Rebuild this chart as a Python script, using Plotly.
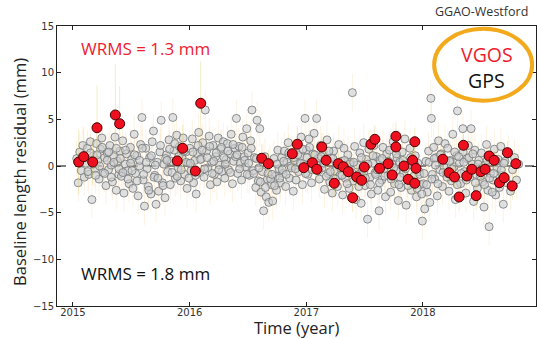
import plotly.graph_objects as go

# ---------------- data ----------------
vgos_year = [2015.049, 2015.092, 2015.169, 2015.206, 2015.363, 2015.400, 2015.894, 2015.940,
             2016.049, 2016.095, 2016.618, 2016.675, 2016.880, 2016.923, 2016.978, 2017.052,
             2017.090, 2017.133, 2017.170, 2017.240, 2017.275, 2017.317, 2017.360, 2017.397,
             2017.432, 2017.474, 2017.497, 2017.554, 2017.588, 2017.628, 2017.702, 2017.736,
             2017.768, 2017.768, 2017.837, 2017.873, 2017.911, 2017.930, 2017.930, 2017.940,
             2018.170, 2018.224, 2018.270, 2018.310, 2018.347, 2018.376, 2018.419, 2018.456,
             2018.496, 2018.533, 2018.567, 2018.610, 2018.656, 2018.696, 2018.724, 2018.765,
             2018.796]
vgos_resid = [0.43, 1.0, 0.43, 4.1, 5.47, 4.53, 0.54, 1.9,
              -0.54, 6.72, 0.83, 0.25, 1.32, 2.33, -0.18, 0.35,
              -0.35, 2.04, 0.61, -1.85, 0.25, -0.08, -0.61, -3.4,
              -1.18, -1.53, -0.11, 2.33, 2.86, -0.25, 0.25, -0.96,
              3.18, 2.04, 0.0, -1.43, 0.61, 2.6, -1.85, -0.25,
              0.72, -0.72, -1.18, -3.32, 2.22, -1.07, -0.35, -3.18,
              -0.61, -0.35, 1.07, 0.61, -1.79, -1.25, 1.43, -2.14,
              0.25]
vgos_err = [3.5, 3.0, 2.5, 4.5, 5.5, 4.0, 2.0, 2.5,
            2.0, 4.5, 1.5, 1.5, 1.5, 1.8, 1.2, 1.2,
            1.2, 1.5, 1.2, 1.5, 1.0, 1.0, 1.2, 1.5,
            1.2, 1.2, 1.0, 1.5, 1.5, 1.0, 1.0, 1.2,
            1.5, 1.2, 1.0, 1.2, 1.0, 1.5, 1.2, 1.0,
            1.2, 1.0, 1.2, 1.5, 1.2, 1.0, 1.0, 1.5,
            1.0, 1.0, 1.2, 1.0, 1.2, 1.0, 1.2, 1.5,
            1.2]

gps_year = [
    2015.032, 2015.045, 2015.058, 2015.071, 2015.084, 2015.097,
    2015.110, 2015.123, 2015.136, 2015.149, 2015.162, 2015.175, 2015.188,
    2015.201, 2015.212, 2015.224, 2015.236, 2015.247, 2015.259, 2015.271, 2015.283, 2015.294,
    2015.305, 2015.316, 2015.327, 2015.338, 2015.349, 2015.360, 2015.371, 2015.382, 2015.393,
    2015.404, 2015.415, 2015.426, 2015.437, 2015.448, 2015.459, 2015.470, 2015.481, 2015.492,
    2015.503, 2015.514, 2015.525, 2015.536, 2015.547, 2015.558, 2015.569, 2015.580, 2015.591,
    2015.602, 2015.613, 2015.624, 2015.635, 2015.646, 2015.657, 2015.668, 2015.679, 2015.690,
    2015.701, 2015.712, 2015.723, 2015.734, 2015.745, 2015.756, 2015.767, 2015.778, 2015.789,
    2015.801, 2015.812, 2015.823, 2015.834, 2015.845, 2015.856, 2015.867, 2015.878, 2015.889,
    2015.901, 2015.912, 2015.923, 2015.934, 2015.945, 2015.956, 2015.967, 2015.978, 2015.989,
    2016.001, 2016.012, 2016.023, 2016.034, 2016.045, 2016.056, 2016.067, 2016.078, 2016.089,
    2016.101, 2016.112, 2016.123, 2016.134, 2016.145, 2016.156, 2016.167, 2016.178, 2016.189,
    2016.201, 2016.212, 2016.223, 2016.234, 2016.245, 2016.256, 2016.267, 2016.278, 2016.289,
    2016.301, 2016.312, 2016.323, 2016.334, 2016.345, 2016.356, 2016.367, 2016.378, 2016.389,
    2016.401, 2016.412, 2016.423, 2016.434, 2016.445, 2016.456, 2016.467, 2016.478, 2016.489,
    2016.501, 2016.512, 2016.523, 2016.534, 2016.545, 2016.556, 2016.567, 2016.578, 2016.589,
    2016.601, 2016.612, 2016.623, 2016.634, 2016.645, 2016.656, 2016.667, 2016.678, 2016.689,
    2016.701, 2016.712, 2016.723, 2016.734, 2016.745, 2016.756, 2016.767, 2016.778, 2016.789,
    2016.801, 2016.812, 2016.823, 2016.834, 2016.845, 2016.856, 2016.867, 2016.878, 2016.889,
    2016.901, 2016.912, 2016.923, 2016.934, 2016.945, 2016.956, 2016.967, 2016.978, 2016.989,
    2017.001, 2017.012, 2017.023, 2017.034, 2017.045, 2017.056, 2017.067, 2017.078, 2017.089,
    2017.101, 2017.112, 2017.123, 2017.134, 2017.145, 2017.156, 2017.167, 2017.178, 2017.189,
    2017.201, 2017.212, 2017.223, 2017.234, 2017.245, 2017.256, 2017.267, 2017.278, 2017.289,
    2017.301, 2017.312, 2017.323, 2017.334, 2017.345, 2017.356, 2017.367, 2017.378, 2017.395,
    2017.404, 2017.415, 2017.426, 2017.437, 2017.448, 2017.459, 2017.470, 2017.481, 2017.492,
    2017.503, 2017.514, 2017.525, 2017.536, 2017.547, 2017.558, 2017.569, 2017.580, 2017.591,
    2017.602, 2017.613, 2017.624, 2017.635, 2017.646, 2017.657, 2017.668, 2017.679, 2017.690,
    2017.701, 2017.712, 2017.723, 2017.734, 2017.745, 2017.756, 2017.767, 2017.778, 2017.789,
    2017.801, 2017.812, 2017.823, 2017.834, 2017.845, 2017.856, 2017.867, 2017.878, 2017.889,
    2017.901, 2017.912, 2017.923, 2017.934, 2017.945, 2017.956, 2017.967, 2017.978, 2017.995,
    2018.005, 2018.015, 2018.026, 2018.037, 2018.048, 2018.059, 2018.068, 2018.072, 2018.081, 2018.092,
    2018.101, 2018.112, 2018.123, 2018.134, 2018.145, 2018.156, 2018.167, 2018.178, 2018.189,
    2018.201, 2018.212, 2018.223, 2018.234, 2018.245, 2018.256, 2018.267, 2018.278, 2018.289,
    2018.296, 2018.312, 2018.323, 2018.342, 2018.345, 2018.356, 2018.367, 2018.378, 2018.389,
    2018.401, 2018.413, 2018.423, 2018.434, 2018.445, 2018.456, 2018.467, 2018.478, 2018.489,
    2018.501, 2018.512, 2018.523, 2018.534, 2018.545, 2018.556, 2018.567, 2018.578, 2018.589,
    2018.601, 2018.612, 2018.623, 2018.634, 2018.645, 2018.656, 2018.667, 2018.678, 2018.689,
    2018.703, 2018.718, 2018.734, 2018.751, 2018.768, 2018.785, 2018.802, 2018.820,
    # denser core
    2015.106, 2015.128, 2015.150, 2015.172, 2015.194,
    2015.206, 2015.228, 2015.250, 2015.272, 2015.294,
    2015.306, 2015.328, 2015.350, 2015.372, 2015.394,
    2015.406, 2015.428, 2015.450, 2015.472, 2015.494,
    2015.506, 2015.528, 2015.550, 2015.572, 2015.594,
    2015.606, 2015.628, 2015.650, 2015.672, 2015.694,
    2015.706, 2015.728, 2015.750, 2015.772, 2015.794,
    2015.806, 2015.828, 2015.850, 2015.872, 2015.894,
    2015.906, 2015.928, 2015.950, 2015.972, 2015.994,
    2016.006, 2016.028, 2016.050, 2016.072, 2016.094,
    2016.106, 2016.128, 2016.150, 2016.172, 2016.194,
    2016.206, 2016.228, 2016.250, 2016.272, 2016.294,
    2016.306, 2016.328, 2016.350, 2016.372, 2016.394,
    2016.406, 2016.428, 2016.450, 2016.472, 2016.494,
    2016.506, 2016.528, 2016.550, 2016.572, 2016.594,
    2016.606, 2016.628, 2016.650, 2016.672, 2016.694,
    2016.706, 2016.728, 2016.750, 2016.772, 2016.794,
    2016.806, 2016.828, 2016.850, 2016.872, 2016.894,
    2016.906, 2016.928, 2016.950, 2016.972, 2016.994,
    2017.006, 2017.028, 2017.050, 2017.072, 2017.094,
    2017.106, 2017.128, 2017.150, 2017.172, 2017.194,
    2017.206, 2017.228, 2017.250, 2017.272, 2017.294,
    2017.306, 2017.328, 2017.350, 2017.372, 2017.390,
    2017.406, 2017.428, 2017.450, 2017.472, 2017.494,
    2017.506, 2017.528, 2017.550, 2017.572, 2017.594,
    2017.606, 2017.628, 2017.650, 2017.672, 2017.694,
    2017.706, 2017.728, 2017.750, 2017.772, 2017.794,
    2017.806, 2017.828, 2017.850, 2017.872, 2017.894,
    2017.906, 2017.928, 2017.950, 2017.972, 2017.990,
    2018.010, 2018.031, 2018.053, 2018.076, 2018.097,
    2018.106, 2018.128, 2018.150, 2018.172, 2018.194,
    2018.206, 2018.228, 2018.250, 2018.272, 2018.294,
    2018.306, 2018.328, 2018.350, 2018.372, 2018.394,
    2018.406, 2018.428, 2018.450, 2018.472, 2018.494,
    2018.506, 2018.528, 2018.550, 2018.572, 2018.594,
    2018.606, 2018.628, 2018.650, 2018.672, 2018.694,
]
gps_resid = [
    0.8, -1.8, 1.5, -0.5, 2.2, -1.2,
    0.3, 1.9, -0.9, 2.6, -3.6, 1.1, -0.3,
    2.4, 0.6, -1.4, 1.8, 3.0, -0.7, 0.9, -2.1, 1.4,
    -0.4, 2.2, 0.1, -1.7, 1.0, 3.1, -2.6, 0.5, -0.9,
    1.6, -1.1, 2.7, -2.9, 0.2, 1.3, -0.5, -1.9, 2.0,
    0.7, -2.4, 3.4, -0.8, 1.1, -3.2, 0.0, 2.3, 5.2,
    -1.5, -4.3, 1.9, -0.3, -2.2, 0.9, -3.0, 2.6, 3.75,
    -1.0, -4.1, 0.4, -2.7, 1.5, 4.9, -1.8, 0.2, -3.4,
    1.2, -0.6, 2.8, -2.0, 0.5, 5.2, 1.7, -1.3, 3.3,
    -0.2, 2.1, -1.6, 0.9, 3.0, -0.9, 1.5, -2.4, 0.3,
    1.9, -0.5, 2.9, -1.8, 0.6, -3.0, 1.3, 3.6, -0.7,
    0.8, 2.5, -1.2, 6.0, 1.6, -0.2, 3.2, -2.0, 0.4,
    2.2, -0.9, 1.0, -1.7, 3.0, 0.1, 1.8, -0.6, 2.6,
    -1.3, 0.7, 2.4, -0.4, 1.3, 3.4, -1.9, 0.5, 1.9,
    5.1, -0.8, 2.1, 0.3, -1.5, 3.1, 1.0, -0.1, 4.0,
    1.4, -1.0, 2.7, 6.0, -0.5, 0.9, -2.3, 4.9, -1.6,
    4.0, -2.8, -0.6, -4.8, 1.0, -3.3, -1.4, -3.9, 0.3,
    -2.0, -3.75, 0.8, -1.1, -2.6, 1.7, -0.3, -1.8, 0.9,
    -0.8, 1.6, -2.2, 0.4, 2.5, -1.3, 0.0, 1.2, -2.7,
    0.6, -1.5, 2.3, -0.6, 1.0, 3.1, -2.0, 0.2, 5.1,
    1.7, -0.9, 2.9, 0.4, -1.8, 1.3, 3.5, -0.3, 5.1,
    0.8, -1.4, 2.2, -0.2, 1.5, -2.5, 0.6, 2.8, -0.8,
    -1.7, 0.9, -2.9, 1.6, -0.5, 0.3, -2.2, 2.3, -1.0,
    0.5, -3.1, 1.9, -1.3, -0.2, 1.2, -2.4, 0.4, 7.86,
    -1.6, 2.1, -3.6, 0.1, -0.9, 1.4, -4.0, -0.4, 2.5,
    -2.1, 0.7, -5.7, 1.8, -1.2, -3.0, 0.3, 2.2, -0.7,
    1.0, -2.6, -4.8, 0.6, -1.5, 2.0, -0.3, -3.3, 1.3,
    -1.0, 1.7, -2.8, 0.2, 2.6, -1.9, -0.5, 0.9, -3.7,
    0.4, -2.3, 1.5, -0.8, 2.9, -4.2, -1.4, 0.1, 1.9,
    -2.6, 0.8, -1.1, 1.1, -3.3, 0.3, -0.6, -2.0, -5.9,
    -1.9, -4.6, 0.5, -2.8, 1.6, -3.9, 7.25, 5.1, -0.9, 2.0,
    -1.4, 0.9, -3.2, 2.7, -0.4, 1.3, -2.2, 0.0, 2.4,
    -0.8, 1.9, -2.7, 0.6, -1.6, 3.4, -0.1, -3.6, 1.1,
    5.9, 0.3, -1.9, 4.0, 1.5, -0.6, -2.9, 0.8, 2.2,
    -1.2, 4.0, 0.2, -3.8, 1.7, -0.9, -2.4, 0.6, -0.3,
    1.4, -1.7, -4.4, 0.1, 2.3, -2.6, -6.5, -0.8, 0.9,
    -1.5, 1.8, -3.1, -0.2, 0.7, -2.3, 2.1, -1.0, -4.1,
    0.5, -1.8, 1.3, -2.7, -0.4, 0.9, -1.5, 0.2,
    # denser core
    0.9, -0.6, 1.4, 0.2, -1.0,
    1.2, 0.0, 2.0, -0.8, 0.6,
    1.5, -1.2, 0.4, 1.9, -0.3,
    0.8, -0.7, 1.7, -1.4, 0.3,
    -0.5, 1.2, -1.6, 0.6, 1.9,
    -0.9, 0.4, -2.6, 1.1, -1.2,
    0.1, -1.3, 2.2, -2.1, 0.8,
    0.6, 1.8, -0.7, 2.4, -1.1,
    1.0, -0.4, 1.6, 0.4, -1.3,
    0.3, 1.5, -1.0, 2.2, 0.7,
    1.7, -0.3, 0.9, 2.1, -0.8,
    0.5, 1.4, -0.4, 2.0, 0.9,
    0.2, 1.6, -0.7, 2.3, 1.0,
    1.2, -0.3, 2.0, 0.6, -0.9,
    0.3, 1.9, -0.8, 0.8, -0.2,
    -1.7, 0.4, -2.3, -0.8, -1.4,
    -0.9, -2.1, 0.2, -1.3, -0.4,
    0.5, -0.9, 1.4, -0.2, 0.9,
    -0.3, 1.2, 0.3, 1.8, -0.8,
    0.9, 2.0, -0.4, 1.2, 0.1,
    -0.5, 1.0, 0.3, -1.1, 1.6,
    -0.6, 0.8, -1.4, 0.1, -0.2,
    -1.0, 0.6, -1.9, 0.2, -0.7,
    0.4, -1.2, -2.2, 0.9, -0.6,
    -1.3, 0.2, -2.0, 1.1, -0.9,
    -0.4, -1.8, 0.8, -1.1, 0.1,
    0.5, -1.4, -0.2, 1.3, -2.0,
    -1.2, 0.6, -0.3, -2.1, 0.9,
    -1.6, 0.2, -2.4, -0.9, -3.0,
    -0.8, -2.0, 0.4, -1.4, 0.8,
    0.1, -1.9, 1.2, -0.7, 0.6,
    -1.2, 0.5, -0.3, 1.5, -2.0,
    1.0, -0.8, 0.4, -1.5, 0.9,
    -0.5, 1.3, -1.8, 0.2, -1.1,
    -0.3, -2.0, 0.6, -1.3, -2.8,
    -0.8, 0.5, -1.9, -0.4, 0.3,
]
GPS_SIGMA = 2.0

x_ticks = [2015, 2016, 2017, 2018]
y_ticks = [-15, -10, -5, 0, 5, 10, 15]

# ---------------- figure ----------------
fig = go.Figure()

fig.add_trace(go.Scatter(
    x=gps_year, y=gps_resid, mode="markers", name="GPS",
    marker=dict(size=8, color="rgba(205,207,209,0.62)",
                line=dict(color="rgba(120,123,126,0.85)", width=1)),
    error_y=dict(type="constant", value=GPS_SIGMA, color="rgba(240,170,70,0.15)",
                 thickness=1, width=0),
))
fig.add_trace(go.Scatter(
    x=vgos_year, y=vgos_resid, mode="markers", name="VGOS",
    marker=dict(size=10, color="#ee0f1f", line=dict(color="#4a0000", width=1)),
    error_y=dict(type="data", array=vgos_err, color="rgba(220,200,90,0.35)",
                 thickness=1, width=0),
))

fig.add_shape(type="line", xref="paper", x0=0, x1=1, yref="y", y0=0, y1=0,
              line=dict(color="black", width=1, dash="dash"), layer="below")

fig.add_shape(type="circle", xref="x", yref="y",
              x0=2018.096, x1=2018.936, y0=7.0, y1=14.7,
              line=dict(color="#f2a91c", width=4))

font_main = "Open Sans, Noto Sans, sans-serif"
fig.add_annotation(x=2018.546, y=11.9, xref="x", yref="y", text="VGOS", showarrow=False,
                   font=dict(family=font_main, size=19.5, color="#ee1c2e"))
fig.add_annotation(x=2018.546, y=9.2, xref="x", yref="y", text="GPS", showarrow=False,
                   font=dict(family=font_main, size=19.5, color="#111111"))
fig.add_annotation(x=2015.05, y=12.6, xref="x", yref="y", text="WRMS = 1.3 mm",
                   showarrow=False, xanchor="left",
                   font=dict(family=font_main, size=17, color="#ee1c2e"))
fig.add_annotation(x=2015.05, y=-11.5, xref="x", yref="y", text="WRMS = 1.8 mm",
                   showarrow=False, xanchor="left",
                   font=dict(family=font_main, size=17, color="#111111"))
fig.add_annotation(x=0.9875, y=1.0, xref="paper", yref="paper", text="GGAO-Westford",
                   showarrow=False, xanchor="right", yanchor="bottom", yshift=4,
                   font=dict(family=font_main, size=12.5, color="#333333"))
# axis titles
fig.add_annotation(x=0.5, y=-0.078, xref="paper", yref="paper", text="Time (year)",
                   showarrow=False, xanchor="center", yanchor="middle", borderpad=0,
                   font=dict(family=font_main, size=16.5, color="#222222"))
fig.add_annotation(x=(20 - 57) / 479, y=0.479, xref="paper", yref="paper",
                   text="Baseline length residual (mm)", textangle=-90,
                   showarrow=False, xanchor="center", yanchor="middle",
                   font=dict(family=font_main, size=16.5, color="#222222"))

axis_common = dict(showline=True, linecolor="#222222", linewidth=1, mirror="ticks",
                   ticks="inside", ticklen=4, tickcolor="#222222", showgrid=False,
                   zeroline=False,
                   tickfont=dict(family="DejaVu Sans", size=10, color="#333333"))

fig.update_layout(
    width=537, height=339,
    margin=dict(l=57, r=1, t=26, b=33),
    paper_bgcolor="white", plot_bgcolor="white",
    showlegend=False,
    xaxis=dict(range=[2014.863, 2018.969], tickvals=x_ticks,
               ticktext=[str(v) for v in x_ticks], ticklabelstandoff=-3,
               **axis_common),
    yaxis=dict(range=[-15, 15], tickvals=y_ticks,
               ticktext=[("\u2212" + str(-v)) if v < 0 else str(v) for v in y_ticks],
               **axis_common),
)

fig.write_html("out.html", config={"displayModeBar": False},
               post_script="document.body.style.margin='0px';document.body.style.overflow='hidden';")
